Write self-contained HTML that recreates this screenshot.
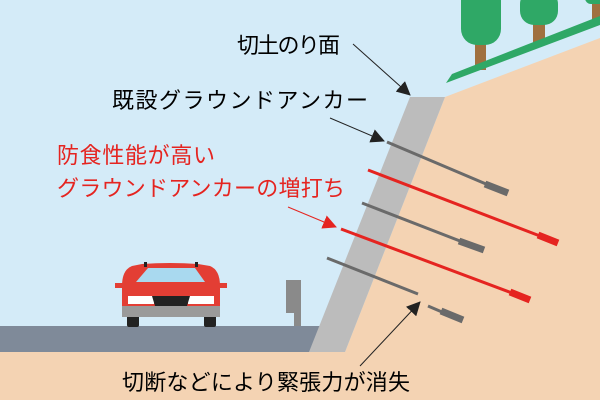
<!DOCTYPE html><html><head><style>body{margin:0}svg{display:block}text{font-family:"Liberation Sans","Noto Sans CJK JP",sans-serif;font-size:22px}</style></head><body>
<svg width="600" height="400" viewBox="0 0 600 400" xmlns="http://www.w3.org/2000/svg">
<defs>
<marker id="a" markerWidth="14" markerHeight="14" refX="13" refY="7" orient="auto" markerUnits="userSpaceOnUse"><path d="M0,0L14,7L0,14z" fill="#222"/></marker>
<marker id="r" markerWidth="14" markerHeight="14" refX="13" refY="7" orient="auto" markerUnits="userSpaceOnUse"><path d="M0,0L14,7L0,14z" fill="#e52420"/></marker>
</defs>
<rect width="600" height="400" fill="#d4ebf8"/>
<rect x="475" y="35" width="11" height="35" fill="#a0703f"/>
<rect x="461" y="-15" width="40" height="60" rx="16" fill="#2fa866"/>
<rect x="533" y="15" width="12" height="30" fill="#a0703f"/>
<rect x="520" y="-10" width="38" height="35" rx="14" fill="#2fa866"/>
<rect x="592" y="0" width="10" height="20" fill="#a0703f"/>
<rect x="585" y="-10" width="20" height="14" rx="6" fill="#2fa866"/>
<polygon points="446,83 600,25 600,16 452,74" fill="#2fa866"/>
<polygon points="445,97 600,38 600,400 0,400 0,352 345,352" fill="#f4d3b3"/>
<rect x="0" y="326" width="330" height="26" fill="#7f8a99"/>
<polygon points="410,97 445,97 345,352 309,352" fill="#bcbcbc"/>
<g stroke-linecap="butt">
<line x1="387" y1="142" x2="486" y2="184" stroke="#6a6a6a" stroke-width="3"/>
<line x1="485" y1="184" x2="508" y2="193" stroke="#6a6a6a" stroke-width="7"/>
<line x1="368" y1="170" x2="540" y2="236" stroke="#e52420" stroke-width="3"/>
<line x1="538" y1="235" x2="558" y2="243" stroke="#e52420" stroke-width="7"/>
<line x1="362" y1="203" x2="460" y2="241" stroke="#6a6a6a" stroke-width="3"/>
<line x1="459" y1="241" x2="484" y2="250" stroke="#6a6a6a" stroke-width="7"/>
<line x1="341" y1="229" x2="512" y2="293" stroke="#e52420" stroke-width="3"/>
<line x1="510" y1="292" x2="530" y2="300" stroke="#e52420" stroke-width="7"/>
<line x1="327" y1="258" x2="418" y2="294" stroke="#6a6a6a" stroke-width="3"/>
<line x1="428" y1="306" x2="442" y2="312" stroke="#6a6a6a" stroke-width="3"/>
<line x1="441" y1="311" x2="463" y2="320" stroke="#6a6a6a" stroke-width="7"/>
</g>
<rect x="286" y="280" width="15" height="33" fill="#8a8a8a"/>
<rect x="294" y="312" width="7" height="14" fill="#8a8a8a"/>
<rect x="127" y="306" width="12" height="21" rx="2" fill="#222"/>
<rect x="204" y="306" width="12" height="21" rx="2" fill="#222"/>
<path d="M122,286 Q122,270 132,266 L142,264 Q170,262 198,264 L210,266 Q220,270 220,286 L220,306 L122,306Z" fill="#e33e34"/>
<path d="M148,268 L195,268 L205,282 L136,282Z" fill="#a9d9ef"/>
<rect x="144" y="262" width="3" height="5" fill="#222"/><rect x="195" y="262" width="3" height="5" fill="#222"/>
<rect x="115" y="283" width="9" height="5" fill="#e33e34"/><rect x="218" y="283" width="9" height="5" fill="#e33e34"/>
<rect x="128" y="296" width="26" height="8" fill="#fff"/><rect x="188" y="296" width="26" height="8" fill="#fff"/>
<polygon points="152,296 190,296 187,306 155,306" fill="#222"/>
<rect x="122" y="306" width="98" height="11" fill="#9a9a9a"/>
<text x="237" y="53" textLength="103">切土のり面</text>
<line x1="353" y1="44" x2="410" y2="95" stroke="#222" stroke-width="1" marker-end="url(#a)"/>
<text x="112" y="108" textLength="256">既設グラウンドアンカー</text>
<line x1="330" y1="118" x2="384" y2="141" stroke="#222" stroke-width="1" marker-end="url(#a)"/>
<text x="57" y="163" fill="#e52420" textLength="158">防食性能が高い</text>
<text x="57" y="196" fill="#e52420" textLength="288">グラウンドアンカーの増打ち</text>
<line x1="288" y1="207" x2="336" y2="227" stroke="#e52420" stroke-width="1" marker-end="url(#r)"/>
<text x="122" y="390" textLength="288">切断などにより緊張力が消失</text>
<line x1="360" y1="366" x2="420" y2="302" stroke="#222" stroke-width="1" marker-end="url(#a)"/>
</svg></body></html>
